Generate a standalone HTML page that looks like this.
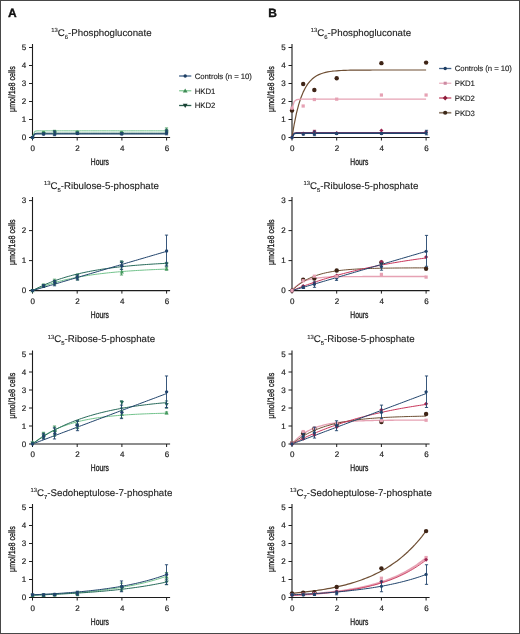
<!DOCTYPE html>
<html><head><meta charset="utf-8"><title>Figure</title><style>
html,body{margin:0;padding:0;background:#fff;}
body{width:520px;height:634px;overflow:hidden;}
svg{display:block;will-change:transform;}
text{font-family:"Liberation Sans",sans-serif;text-rendering:geometricPrecision;fill:#222;stroke:#222;stroke-width:0.12px;}
.pl{font-size:12px;font-weight:bold;fill:#111;stroke:#111;stroke-width:0.35px;}
.ti{font-size:9.7px;}
.sup{font-size:5.9px;}
.tk{font-size:8px;stroke-width:0.2px;}
.lg{font-size:7.8px;letter-spacing:-0.08px;}
.hr{font-size:9.6px;stroke-width:0.35px;}
.yl{font-size:9.2px;stroke-width:0.32px;}
</style></head><body>
<svg width="520" height="634" viewBox="0 0 520 634">
<rect x="0" y="0" width="520" height="634" fill="#fff"/>
<rect x="0.5" y="0.5" width="519" height="633" fill="none" stroke="#474747" stroke-width="1"/>
<text x="7.9" y="16.9" class="pl">A</text>
<text x="268.3" y="16.9" class="pl">B</text>
<text x="101.4" y="35.9" class="ti" text-anchor="middle"><tspan class="sup" dy="-3.6">13</tspan><tspan dy="3.6">C</tspan><tspan class="sup" dy="2.8">6</tspan><tspan dy="-2.8">-Phosphogluconate</tspan></text>
<text x="101.4" y="189" class="ti" text-anchor="middle"><tspan class="sup" dy="-3.6">13</tspan><tspan dy="3.6">C</tspan><tspan class="sup" dy="2.8">5</tspan><tspan dy="-2.8">-Ribulose-5-phosphate</tspan></text>
<text x="101.4" y="342.4" class="ti" text-anchor="middle"><tspan class="sup" dy="-3.6">13</tspan><tspan dy="3.6">C</tspan><tspan class="sup" dy="2.8">5</tspan><tspan dy="-2.8">-Ribose-5-phosphate</tspan></text>
<text x="101.4" y="495.9" class="ti" text-anchor="middle"><tspan class="sup" dy="-3.6">13</tspan><tspan dy="3.6">C</tspan><tspan class="sup" dy="2.8">7</tspan><tspan dy="-2.8">-Sedoheptulose-7-phosphate</tspan></text>
<text x="360.9" y="35.9" class="ti" text-anchor="middle"><tspan class="sup" dy="-3.6">13</tspan><tspan dy="3.6">C</tspan><tspan class="sup" dy="2.8">6</tspan><tspan dy="-2.8">-Phosphogluconate</tspan></text>
<text x="360.9" y="189" class="ti" text-anchor="middle"><tspan class="sup" dy="-3.6">13</tspan><tspan dy="3.6">C</tspan><tspan class="sup" dy="2.8">5</tspan><tspan dy="-2.8">-Ribulose-5-phosphate</tspan></text>
<text x="360.9" y="342.4" class="ti" text-anchor="middle"><tspan class="sup" dy="-3.6">13</tspan><tspan dy="3.6">C</tspan><tspan class="sup" dy="2.8">5</tspan><tspan dy="-2.8">-Ribose-5-phosphate</tspan></text>
<text x="360.9" y="495.9" class="ti" text-anchor="middle"><tspan class="sup" dy="-3.6">13</tspan><tspan dy="3.6">C</tspan><tspan class="sup" dy="2.8">7</tspan><tspan dy="-2.8">-Sedoheptulose-7-phosphate</tspan></text>
<path d="M32.5 44V137.5H170.1" stroke="#1c1c1c" stroke-width="1.1" fill="none"/>
<path d="M29 137.5H32.5" stroke="#1c1c1c" stroke-width="1" fill="none"/>
<text x="26.2" y="140" class="tk" text-anchor="end">0</text>
<path d="M29 119.5H32.5" stroke="#1c1c1c" stroke-width="1" fill="none"/>
<text x="26.2" y="122" class="tk" text-anchor="end">1</text>
<path d="M29 101.5H32.5" stroke="#1c1c1c" stroke-width="1" fill="none"/>
<text x="26.2" y="104" class="tk" text-anchor="end">2</text>
<path d="M29 83.5H32.5" stroke="#1c1c1c" stroke-width="1" fill="none"/>
<text x="26.2" y="86" class="tk" text-anchor="end">3</text>
<path d="M29 65.5H32.5" stroke="#1c1c1c" stroke-width="1" fill="none"/>
<text x="26.2" y="68" class="tk" text-anchor="end">4</text>
<path d="M29 47.5H32.5" stroke="#1c1c1c" stroke-width="1" fill="none"/>
<text x="26.2" y="50" class="tk" text-anchor="end">5</text>
<path d="M32.5 137.5V140.5" stroke="#1c1c1c" stroke-width="1" fill="none"/>
<text x="32.8" y="150.7" class="tk" text-anchor="middle">0</text>
<path d="M77.2 137.5V140.5" stroke="#1c1c1c" stroke-width="1" fill="none"/>
<text x="77.5" y="150.7" class="tk" text-anchor="middle">2</text>
<path d="M121.9 137.5V140.5" stroke="#1c1c1c" stroke-width="1" fill="none"/>
<text x="122.2" y="150.7" class="tk" text-anchor="middle">4</text>
<path d="M166.6 137.5V140.5" stroke="#1c1c1c" stroke-width="1" fill="none"/>
<text x="166.9" y="150.7" class="tk" text-anchor="middle">6</text>
<text class="hr" text-anchor="middle" transform="translate(99.8 164.6) scale(0.7 1)">Hours</text>
<text class="yl" text-anchor="middle" transform="translate(14.9 89.1) rotate(-90) scale(0.775 1)">&#956;mol/1e8 cells</text>
<path d="M32.5 197.1V290.6H170.1" stroke="#1c1c1c" stroke-width="1.1" fill="none"/>
<path d="M29 290.6H32.5" stroke="#1c1c1c" stroke-width="1" fill="none"/>
<text x="26.2" y="293.1" class="tk" text-anchor="end">0</text>
<path d="M29 260.6H32.5" stroke="#1c1c1c" stroke-width="1" fill="none"/>
<text x="26.2" y="263.1" class="tk" text-anchor="end">1</text>
<path d="M29 230.6H32.5" stroke="#1c1c1c" stroke-width="1" fill="none"/>
<text x="26.2" y="233.1" class="tk" text-anchor="end">2</text>
<path d="M29 200.6H32.5" stroke="#1c1c1c" stroke-width="1" fill="none"/>
<text x="26.2" y="203.1" class="tk" text-anchor="end">3</text>
<path d="M32.5 290.6V293.6" stroke="#1c1c1c" stroke-width="1" fill="none"/>
<text x="32.8" y="303.8" class="tk" text-anchor="middle">0</text>
<path d="M77.2 290.6V293.6" stroke="#1c1c1c" stroke-width="1" fill="none"/>
<text x="77.5" y="303.8" class="tk" text-anchor="middle">2</text>
<path d="M121.9 290.6V293.6" stroke="#1c1c1c" stroke-width="1" fill="none"/>
<text x="122.2" y="303.8" class="tk" text-anchor="middle">4</text>
<path d="M166.6 290.6V293.6" stroke="#1c1c1c" stroke-width="1" fill="none"/>
<text x="166.9" y="303.8" class="tk" text-anchor="middle">6</text>
<text class="hr" text-anchor="middle" transform="translate(99.8 317.7) scale(0.7 1)">Hours</text>
<text class="yl" text-anchor="middle" transform="translate(14.9 242.2) rotate(-90) scale(0.775 1)">&#956;mol/1e8 cells</text>
<path d="M32.5 350.5V444H170.1" stroke="#1c1c1c" stroke-width="1.1" fill="none"/>
<path d="M29 444H32.5" stroke="#1c1c1c" stroke-width="1" fill="none"/>
<text x="26.2" y="446.5" class="tk" text-anchor="end">0</text>
<path d="M29 426H32.5" stroke="#1c1c1c" stroke-width="1" fill="none"/>
<text x="26.2" y="428.5" class="tk" text-anchor="end">1</text>
<path d="M29 408H32.5" stroke="#1c1c1c" stroke-width="1" fill="none"/>
<text x="26.2" y="410.5" class="tk" text-anchor="end">2</text>
<path d="M29 390H32.5" stroke="#1c1c1c" stroke-width="1" fill="none"/>
<text x="26.2" y="392.5" class="tk" text-anchor="end">3</text>
<path d="M29 372H32.5" stroke="#1c1c1c" stroke-width="1" fill="none"/>
<text x="26.2" y="374.5" class="tk" text-anchor="end">4</text>
<path d="M29 354H32.5" stroke="#1c1c1c" stroke-width="1" fill="none"/>
<text x="26.2" y="356.5" class="tk" text-anchor="end">5</text>
<path d="M32.5 444V447" stroke="#1c1c1c" stroke-width="1" fill="none"/>
<text x="32.8" y="457.2" class="tk" text-anchor="middle">0</text>
<path d="M77.2 444V447" stroke="#1c1c1c" stroke-width="1" fill="none"/>
<text x="77.5" y="457.2" class="tk" text-anchor="middle">2</text>
<path d="M121.9 444V447" stroke="#1c1c1c" stroke-width="1" fill="none"/>
<text x="122.2" y="457.2" class="tk" text-anchor="middle">4</text>
<path d="M166.6 444V447" stroke="#1c1c1c" stroke-width="1" fill="none"/>
<text x="166.9" y="457.2" class="tk" text-anchor="middle">6</text>
<text class="hr" text-anchor="middle" transform="translate(99.8 471.1) scale(0.7 1)">Hours</text>
<text class="yl" text-anchor="middle" transform="translate(14.9 395.6) rotate(-90) scale(0.775 1)">&#956;mol/1e8 cells</text>
<path d="M32.5 504V597.5H170.1" stroke="#1c1c1c" stroke-width="1.1" fill="none"/>
<path d="M29 597.5H32.5" stroke="#1c1c1c" stroke-width="1" fill="none"/>
<text x="26.2" y="600" class="tk" text-anchor="end">0</text>
<path d="M29 579.5H32.5" stroke="#1c1c1c" stroke-width="1" fill="none"/>
<text x="26.2" y="582" class="tk" text-anchor="end">1</text>
<path d="M29 561.5H32.5" stroke="#1c1c1c" stroke-width="1" fill="none"/>
<text x="26.2" y="564" class="tk" text-anchor="end">2</text>
<path d="M29 543.5H32.5" stroke="#1c1c1c" stroke-width="1" fill="none"/>
<text x="26.2" y="546" class="tk" text-anchor="end">3</text>
<path d="M29 525.5H32.5" stroke="#1c1c1c" stroke-width="1" fill="none"/>
<text x="26.2" y="528" class="tk" text-anchor="end">4</text>
<path d="M29 507.5H32.5" stroke="#1c1c1c" stroke-width="1" fill="none"/>
<text x="26.2" y="510" class="tk" text-anchor="end">5</text>
<path d="M32.5 597.5V600.5" stroke="#1c1c1c" stroke-width="1" fill="none"/>
<text x="32.8" y="610.7" class="tk" text-anchor="middle">0</text>
<path d="M77.2 597.5V600.5" stroke="#1c1c1c" stroke-width="1" fill="none"/>
<text x="77.5" y="610.7" class="tk" text-anchor="middle">2</text>
<path d="M121.9 597.5V600.5" stroke="#1c1c1c" stroke-width="1" fill="none"/>
<text x="122.2" y="610.7" class="tk" text-anchor="middle">4</text>
<path d="M166.6 597.5V600.5" stroke="#1c1c1c" stroke-width="1" fill="none"/>
<text x="166.9" y="610.7" class="tk" text-anchor="middle">6</text>
<text class="hr" text-anchor="middle" transform="translate(99.8 624.6) scale(0.7 1)">Hours</text>
<text class="yl" text-anchor="middle" transform="translate(14.9 549.1) rotate(-90) scale(0.775 1)">&#956;mol/1e8 cells</text>
<path d="M292 44V137.5H429.6" stroke="#1c1c1c" stroke-width="1.1" fill="none"/>
<path d="M288.5 137.5H292" stroke="#1c1c1c" stroke-width="1" fill="none"/>
<text x="285.7" y="140" class="tk" text-anchor="end">0</text>
<path d="M288.5 119.5H292" stroke="#1c1c1c" stroke-width="1" fill="none"/>
<text x="285.7" y="122" class="tk" text-anchor="end">1</text>
<path d="M288.5 101.5H292" stroke="#1c1c1c" stroke-width="1" fill="none"/>
<text x="285.7" y="104" class="tk" text-anchor="end">2</text>
<path d="M288.5 83.5H292" stroke="#1c1c1c" stroke-width="1" fill="none"/>
<text x="285.7" y="86" class="tk" text-anchor="end">3</text>
<path d="M288.5 65.5H292" stroke="#1c1c1c" stroke-width="1" fill="none"/>
<text x="285.7" y="68" class="tk" text-anchor="end">4</text>
<path d="M288.5 47.5H292" stroke="#1c1c1c" stroke-width="1" fill="none"/>
<text x="285.7" y="50" class="tk" text-anchor="end">5</text>
<path d="M292 137.5V140.5" stroke="#1c1c1c" stroke-width="1" fill="none"/>
<text x="292.3" y="150.7" class="tk" text-anchor="middle">0</text>
<path d="M336.7 137.5V140.5" stroke="#1c1c1c" stroke-width="1" fill="none"/>
<text x="337" y="150.7" class="tk" text-anchor="middle">2</text>
<path d="M381.4 137.5V140.5" stroke="#1c1c1c" stroke-width="1" fill="none"/>
<text x="381.7" y="150.7" class="tk" text-anchor="middle">4</text>
<path d="M426.1 137.5V140.5" stroke="#1c1c1c" stroke-width="1" fill="none"/>
<text x="426.4" y="150.7" class="tk" text-anchor="middle">6</text>
<text class="hr" text-anchor="middle" transform="translate(359.3 164.6) scale(0.7 1)">Hours</text>
<text class="yl" text-anchor="middle" transform="translate(274.4 89.1) rotate(-90) scale(0.775 1)">&#956;mol/1e8 cells</text>
<path d="M292 197.1V290.6H429.6" stroke="#1c1c1c" stroke-width="1.1" fill="none"/>
<path d="M288.5 290.6H292" stroke="#1c1c1c" stroke-width="1" fill="none"/>
<text x="285.7" y="293.1" class="tk" text-anchor="end">0</text>
<path d="M288.5 260.6H292" stroke="#1c1c1c" stroke-width="1" fill="none"/>
<text x="285.7" y="263.1" class="tk" text-anchor="end">1</text>
<path d="M288.5 230.6H292" stroke="#1c1c1c" stroke-width="1" fill="none"/>
<text x="285.7" y="233.1" class="tk" text-anchor="end">2</text>
<path d="M288.5 200.6H292" stroke="#1c1c1c" stroke-width="1" fill="none"/>
<text x="285.7" y="203.1" class="tk" text-anchor="end">3</text>
<path d="M292 290.6V293.6" stroke="#1c1c1c" stroke-width="1" fill="none"/>
<text x="292.3" y="303.8" class="tk" text-anchor="middle">0</text>
<path d="M336.7 290.6V293.6" stroke="#1c1c1c" stroke-width="1" fill="none"/>
<text x="337" y="303.8" class="tk" text-anchor="middle">2</text>
<path d="M381.4 290.6V293.6" stroke="#1c1c1c" stroke-width="1" fill="none"/>
<text x="381.7" y="303.8" class="tk" text-anchor="middle">4</text>
<path d="M426.1 290.6V293.6" stroke="#1c1c1c" stroke-width="1" fill="none"/>
<text x="426.4" y="303.8" class="tk" text-anchor="middle">6</text>
<text class="hr" text-anchor="middle" transform="translate(359.3 317.7) scale(0.7 1)">Hours</text>
<text class="yl" text-anchor="middle" transform="translate(274.4 242.2) rotate(-90) scale(0.775 1)">&#956;mol/1e8 cells</text>
<path d="M292 350.5V444H429.6" stroke="#1c1c1c" stroke-width="1.1" fill="none"/>
<path d="M288.5 444H292" stroke="#1c1c1c" stroke-width="1" fill="none"/>
<text x="285.7" y="446.5" class="tk" text-anchor="end">0</text>
<path d="M288.5 426H292" stroke="#1c1c1c" stroke-width="1" fill="none"/>
<text x="285.7" y="428.5" class="tk" text-anchor="end">1</text>
<path d="M288.5 408H292" stroke="#1c1c1c" stroke-width="1" fill="none"/>
<text x="285.7" y="410.5" class="tk" text-anchor="end">2</text>
<path d="M288.5 390H292" stroke="#1c1c1c" stroke-width="1" fill="none"/>
<text x="285.7" y="392.5" class="tk" text-anchor="end">3</text>
<path d="M288.5 372H292" stroke="#1c1c1c" stroke-width="1" fill="none"/>
<text x="285.7" y="374.5" class="tk" text-anchor="end">4</text>
<path d="M288.5 354H292" stroke="#1c1c1c" stroke-width="1" fill="none"/>
<text x="285.7" y="356.5" class="tk" text-anchor="end">5</text>
<path d="M292 444V447" stroke="#1c1c1c" stroke-width="1" fill="none"/>
<text x="292.3" y="457.2" class="tk" text-anchor="middle">0</text>
<path d="M336.7 444V447" stroke="#1c1c1c" stroke-width="1" fill="none"/>
<text x="337" y="457.2" class="tk" text-anchor="middle">2</text>
<path d="M381.4 444V447" stroke="#1c1c1c" stroke-width="1" fill="none"/>
<text x="381.7" y="457.2" class="tk" text-anchor="middle">4</text>
<path d="M426.1 444V447" stroke="#1c1c1c" stroke-width="1" fill="none"/>
<text x="426.4" y="457.2" class="tk" text-anchor="middle">6</text>
<text class="hr" text-anchor="middle" transform="translate(359.3 471.1) scale(0.7 1)">Hours</text>
<text class="yl" text-anchor="middle" transform="translate(274.4 395.6) rotate(-90) scale(0.775 1)">&#956;mol/1e8 cells</text>
<path d="M292 504V597.5H429.6" stroke="#1c1c1c" stroke-width="1.1" fill="none"/>
<path d="M288.5 597.5H292" stroke="#1c1c1c" stroke-width="1" fill="none"/>
<text x="285.7" y="600" class="tk" text-anchor="end">0</text>
<path d="M288.5 579.5H292" stroke="#1c1c1c" stroke-width="1" fill="none"/>
<text x="285.7" y="582" class="tk" text-anchor="end">1</text>
<path d="M288.5 561.5H292" stroke="#1c1c1c" stroke-width="1" fill="none"/>
<text x="285.7" y="564" class="tk" text-anchor="end">2</text>
<path d="M288.5 543.5H292" stroke="#1c1c1c" stroke-width="1" fill="none"/>
<text x="285.7" y="546" class="tk" text-anchor="end">3</text>
<path d="M288.5 525.5H292" stroke="#1c1c1c" stroke-width="1" fill="none"/>
<text x="285.7" y="528" class="tk" text-anchor="end">4</text>
<path d="M288.5 507.5H292" stroke="#1c1c1c" stroke-width="1" fill="none"/>
<text x="285.7" y="510" class="tk" text-anchor="end">5</text>
<path d="M292 597.5V600.5" stroke="#1c1c1c" stroke-width="1" fill="none"/>
<text x="292.3" y="610.7" class="tk" text-anchor="middle">0</text>
<path d="M336.7 597.5V600.5" stroke="#1c1c1c" stroke-width="1" fill="none"/>
<text x="337" y="610.7" class="tk" text-anchor="middle">2</text>
<path d="M381.4 597.5V600.5" stroke="#1c1c1c" stroke-width="1" fill="none"/>
<text x="381.7" y="610.7" class="tk" text-anchor="middle">4</text>
<path d="M426.1 597.5V600.5" stroke="#1c1c1c" stroke-width="1" fill="none"/>
<text x="426.4" y="610.7" class="tk" text-anchor="middle">6</text>
<text class="hr" text-anchor="middle" transform="translate(359.3 624.6) scale(0.7 1)">Hours</text>
<text class="yl" text-anchor="middle" transform="translate(274.4 549.1) rotate(-90) scale(0.775 1)">&#956;mol/1e8 cells</text>
<polyline points="32.5,136.6 34.73,131.31 36.97,130.88 39.2,130.84 41.44,130.84 43.67,130.84 45.91,130.84 48.14,130.84 50.38,130.84 52.62,130.84 54.85,130.84 57.09,130.84 59.32,130.84 61.56,130.84 63.79,130.84 66.03,130.84 68.26,130.84 70.5,130.84 72.73,130.84 74.97,130.84 77.2,130.84 79.44,130.84 81.67,130.84 83.91,130.84 86.14,130.84 88.38,130.84 90.61,130.84 92.84,130.84 95.08,130.84 97.31,130.84 99.55,130.84 101.79,130.84 104.02,130.84 106.25,130.84 108.49,130.84 110.73,130.84 112.96,130.84 115.2,130.84 117.43,130.84 119.67,130.84 121.9,130.84 124.13,130.84 126.37,130.84 128.61,130.84 130.84,130.84 133.07,130.84 135.31,130.84 137.55,130.84 139.78,130.84 142.02,130.84 144.25,130.84 146.49,130.84 148.72,130.84 150.95,130.84 153.19,130.84 155.43,130.84 157.66,130.84 159.9,130.84 162.13,130.84 164.37,130.84 166.6,130.84" fill="none" stroke="#72c38c" stroke-width="1.0" stroke-linejoin="round"/>
<polyline points="32.5,137.14 34.73,133.51 36.97,133.21 39.2,133.18 41.44,133.18 43.67,133.18 45.91,133.18 48.14,133.18 50.38,133.18 52.62,133.18 54.85,133.18 57.09,133.18 59.32,133.18 61.56,133.18 63.79,133.18 66.03,133.18 68.26,133.18 70.5,133.18 72.73,133.18 74.97,133.18 77.2,133.18 79.44,133.18 81.67,133.18 83.91,133.18 86.14,133.18 88.38,133.18 90.61,133.18 92.84,133.18 95.08,133.18 97.31,133.18 99.55,133.18 101.79,133.18 104.02,133.18 106.25,133.18 108.49,133.18 110.73,133.18 112.96,133.18 115.2,133.18 117.43,133.18 119.67,133.18 121.9,133.18 124.13,133.18 126.37,133.18 128.61,133.18 130.84,133.18 133.07,133.18 135.31,133.18 137.55,133.18 139.78,133.18 142.02,133.18 144.25,133.18 146.49,133.18 148.72,133.18 150.95,133.18 153.19,133.18 155.43,133.18 157.66,133.18 159.9,133.18 162.13,133.18 164.37,133.18 166.6,133.18" fill="none" stroke="#276a5a" stroke-width="1.0" stroke-linejoin="round"/>
<polyline points="32.5,137.5 34.73,134.2 36.97,133.92 39.2,133.9 41.44,133.9 43.67,133.9 45.91,133.9 48.14,133.9 50.38,133.9 52.62,133.9 54.85,133.9 57.09,133.9 59.32,133.9 61.56,133.9 63.79,133.9 66.03,133.9 68.26,133.9 70.5,133.9 72.73,133.9 74.97,133.9 77.2,133.9 79.44,133.9 81.67,133.9 83.91,133.9 86.14,133.9 88.38,133.9 90.61,133.9 92.84,133.9 95.08,133.9 97.31,133.9 99.55,133.9 101.79,133.9 104.02,133.9 106.25,133.9 108.49,133.9 110.73,133.9 112.96,133.9 115.2,133.9 117.43,133.9 119.67,133.9 121.9,133.9 124.13,133.9 126.37,133.9 128.61,133.9 130.84,133.9 133.07,133.9 135.31,133.9 137.55,133.9 139.78,133.9 142.02,133.9 144.25,133.9 146.49,133.9 148.72,133.9 150.95,133.9 153.19,133.9 155.43,133.9 157.66,133.9 159.9,133.9 162.13,133.9 164.37,133.9 166.6,133.9" fill="none" stroke="#21446c" stroke-width="1.3" stroke-linejoin="round"/>
<path d="M32.5 135.08L34.56 138.69L30.44 138.69Z" fill="#46995f"/>
<path d="M43.5 131.56V133.36M41.9 131.56H45.1M41.9 133.36H45.1" stroke="#46995f" stroke-width="0.9" fill="none"/>
<path d="M43.67 130.4L45.74 134.01L41.61 134.01Z" fill="#46995f"/>
<path d="M54.5 130.3V133.9M52.9 130.3H56.1M52.9 133.9H56.1" stroke="#46995f" stroke-width="0.9" fill="none"/>
<path d="M54.85 130.04L56.91 133.65L52.79 133.65Z" fill="#46995f"/>
<path d="M77.5 131.2V133M75.9 131.2H79.1M75.9 133H79.1" stroke="#46995f" stroke-width="0.9" fill="none"/>
<path d="M77.2 130.04L79.26 133.65L75.14 133.65Z" fill="#46995f"/>
<path d="M121.5 131.56V133.36M119.9 131.56H123.1M119.9 133.36H123.1" stroke="#46995f" stroke-width="0.9" fill="none"/>
<path d="M121.9 130.4L123.96 134.01L119.84 134.01Z" fill="#46995f"/>
<path d="M166.5 127.96V132.46M164.9 127.96H168.1M164.9 132.46H168.1" stroke="#46995f" stroke-width="0.9" fill="none"/>
<path d="M166.6 128.6L168.66 132.21L164.54 132.21Z" fill="#46995f"/>
<path d="M32.5 139.56L34.56 135.95L30.44 135.95Z" fill="#276a5a"/>
<path d="M43.5 132.64V134.44M41.9 132.64H45.1M41.9 134.44H45.1" stroke="#276a5a" stroke-width="0.9" fill="none"/>
<path d="M43.67 135.6L45.74 131.99L41.61 131.99Z" fill="#276a5a"/>
<path d="M54.5 130.84V134.8M52.9 130.84H56.1M52.9 134.8H56.1" stroke="#276a5a" stroke-width="0.9" fill="none"/>
<path d="M54.85 135.06L56.91 131.45L52.79 131.45Z" fill="#276a5a"/>
<path d="M77.5 132.1V133.9M75.9 132.1H79.1M75.9 133.9H79.1" stroke="#276a5a" stroke-width="0.9" fill="none"/>
<path d="M77.2 135.06L79.26 131.45L75.14 131.45Z" fill="#276a5a"/>
<path d="M121.5 132.64V134.44M119.9 132.64H123.1M119.9 134.44H123.1" stroke="#276a5a" stroke-width="0.9" fill="none"/>
<path d="M121.9 135.6L123.96 131.99L119.84 131.99Z" fill="#276a5a"/>
<path d="M166.5 129.4V133.9M164.9 129.4H168.1M164.9 133.9H168.1" stroke="#276a5a" stroke-width="0.9" fill="none"/>
<path d="M166.6 134.16L168.66 130.55L164.54 130.55Z" fill="#276a5a"/>
<circle cx="32.5" cy="137.5" r="1.65" fill="#21446c"/>
<path d="M43.5 133.18V134.98M41.9 133.18H45.1M41.9 134.98H45.1" stroke="#21446c" stroke-width="0.9" fill="none"/>
<circle cx="43.67" cy="134.08" r="1.65" fill="#21446c"/>
<path d="M54.5 131.2V135.7M52.9 131.2H56.1M52.9 135.7H56.1" stroke="#21446c" stroke-width="0.9" fill="none"/>
<circle cx="54.85" cy="133.9" r="1.65" fill="#21446c"/>
<path d="M77.5 132.64V134.44M75.9 132.64H79.1M75.9 134.44H79.1" stroke="#21446c" stroke-width="0.9" fill="none"/>
<circle cx="77.2" cy="133.54" r="1.65" fill="#21446c"/>
<path d="M121.5 133V134.8M119.9 133H123.1M119.9 134.8H123.1" stroke="#21446c" stroke-width="0.9" fill="none"/>
<circle cx="121.9" cy="133.9" r="1.65" fill="#21446c"/>
<path d="M166.5 130.3V134.8M164.9 130.3H168.1M164.9 134.8H168.1" stroke="#21446c" stroke-width="0.9" fill="none"/>
<circle cx="166.6" cy="133" r="1.65" fill="#21446c"/>
<polyline points="32.5,290.6 34.73,289.64 36.97,288.71 39.2,287.83 41.44,286.98 43.67,286.17 45.91,285.39 48.14,284.64 50.38,283.92 52.62,283.23 54.85,282.57 57.09,281.94 59.32,281.34 61.56,280.75 63.79,280.2 66.03,279.66 68.26,279.15 70.5,278.66 72.73,278.19 74.97,277.74 77.2,277.3 79.44,276.89 81.67,276.49 83.91,276.11 86.14,275.74 88.38,275.39 90.61,275.05 92.84,274.73 95.08,274.42 97.31,274.12 99.55,273.84 101.79,273.56 104.02,273.3 106.25,273.05 108.49,272.81 110.73,272.58 112.96,272.36 115.2,272.15 117.43,271.94 119.67,271.75 121.9,271.56 124.13,271.38 126.37,271.21 128.61,271.04 130.84,270.89 133.07,270.74 135.31,270.59 137.55,270.45 139.78,270.32 142.02,270.19 144.25,270.07 146.49,269.95 148.72,269.83 150.95,269.73 153.19,269.62 155.43,269.52 157.66,269.43 159.9,269.34 162.13,269.25 164.37,269.16 166.6,269.08" fill="none" stroke="#72c38c" stroke-width="1.0" stroke-linejoin="round"/>
<polyline points="32.5,290.6 34.73,289.42 36.97,288.29 39.2,287.21 41.44,286.16 43.67,285.16 45.91,284.2 48.14,283.27 50.38,282.38 52.62,281.53 54.85,280.71 57.09,279.92 59.32,279.16 61.56,278.44 63.79,277.74 66.03,277.06 68.26,276.42 70.5,275.8 72.73,275.2 74.97,274.63 77.2,274.08 79.44,273.55 81.67,273.04 83.91,272.56 86.14,272.09 88.38,271.64 90.61,271.2 92.84,270.79 95.08,270.39 97.31,270 99.55,269.64 101.79,269.28 104.02,268.94 106.25,268.61 108.49,268.3 110.73,268 112.96,267.71 115.2,267.43 117.43,267.16 119.67,266.9 121.9,266.66 124.13,266.42 126.37,266.19 128.61,265.97 130.84,265.76 133.07,265.56 135.31,265.36 137.55,265.18 139.78,265 142.02,264.83 144.25,264.66 146.49,264.5 148.72,264.35 150.95,264.2 153.19,264.06 155.43,263.92 157.66,263.79 159.9,263.67 162.13,263.55 164.37,263.43 166.6,263.32" fill="none" stroke="#276a5a" stroke-width="1.0" stroke-linejoin="round"/>
<polyline points="32.5,290.6 34.73,289.95 36.97,289.29 39.2,288.64 41.44,287.98 43.67,287.33 45.91,286.68 48.14,286.02 50.38,285.37 52.62,284.71 54.85,284.06 57.09,283.41 59.32,282.75 61.56,282.1 63.79,281.44 66.03,280.79 68.26,280.14 70.5,279.48 72.73,278.83 74.97,278.17 77.2,277.52 79.44,276.87 81.67,276.21 83.91,275.56 86.14,274.9 88.38,274.25 90.61,273.6 92.84,272.94 95.08,272.29 97.31,271.63 99.55,270.98 101.79,270.33 104.02,269.67 106.25,269.02 108.49,268.36 110.73,267.71 112.96,267.06 115.2,266.4 117.43,265.75 119.67,265.09 121.9,264.44 124.13,263.79 126.37,263.13 128.61,262.48 130.84,261.82 133.07,261.17 135.31,260.52 137.55,259.86 139.78,259.21 142.02,258.55 144.25,257.9 146.49,257.25 148.72,256.59 150.95,255.94 153.19,255.28 155.43,254.63 157.66,253.98 159.9,253.32 162.13,252.67 164.37,252.01 166.6,251.36" fill="none" stroke="#21446c" stroke-width="1.0" stroke-linejoin="round"/>
<path d="M32.5 288.54L34.56 292.15L30.44 292.15Z" fill="#46995f"/>
<path d="M43.5 284V287M41.9 284H45.1M41.9 287H45.1" stroke="#46995f" stroke-width="0.9" fill="none"/>
<path d="M43.67 283.44L45.74 287.05L41.61 287.05Z" fill="#46995f"/>
<path d="M54.5 279.2V284M52.9 279.2H56.1M52.9 284H56.1" stroke="#46995f" stroke-width="0.9" fill="none"/>
<path d="M54.85 279.54L56.91 283.15L52.79 283.15Z" fill="#46995f"/>
<path d="M77.5 274.1V278.9M75.9 274.1H79.1M75.9 278.9H79.1" stroke="#46995f" stroke-width="0.9" fill="none"/>
<path d="M77.2 274.44L79.26 278.05L75.14 278.05Z" fill="#46995f"/>
<path d="M121.5 269V275M119.9 269H123.1M119.9 275H123.1" stroke="#46995f" stroke-width="0.9" fill="none"/>
<path d="M121.9 269.94L123.96 273.55L119.84 273.55Z" fill="#46995f"/>
<path d="M166.5 267.2V270.2M164.9 267.2H168.1M164.9 270.2H168.1" stroke="#46995f" stroke-width="0.9" fill="none"/>
<path d="M166.6 266.64L168.66 270.25L164.54 270.25Z" fill="#46995f"/>
<path d="M32.5 292.66L34.56 289.05L30.44 289.05Z" fill="#276a5a"/>
<path d="M43.5 284.6V287M41.9 284.6H45.1M41.9 287H45.1" stroke="#276a5a" stroke-width="0.9" fill="none"/>
<path d="M43.67 287.86L45.74 284.25L41.61 284.25Z" fill="#276a5a"/>
<path d="M54.5 280.7V284.9M52.9 280.7H56.1M52.9 284.9H56.1" stroke="#276a5a" stroke-width="0.9" fill="none"/>
<path d="M54.85 284.86L56.91 281.25L52.79 281.25Z" fill="#276a5a"/>
<path d="M77.5 274.7V280.1M75.9 274.7H79.1M75.9 280.1H79.1" stroke="#276a5a" stroke-width="0.9" fill="none"/>
<path d="M77.2 279.16L79.26 275.55L75.14 275.55Z" fill="#276a5a"/>
<path d="M121.5 260.9V265.7M119.9 260.9H123.1M119.9 265.7H123.1" stroke="#276a5a" stroke-width="0.9" fill="none"/>
<path d="M121.9 264.76L123.96 261.15L119.84 261.15Z" fill="#276a5a"/>
<path d="M166.5 262.4V266M164.9 262.4H168.1M164.9 266H168.1" stroke="#276a5a" stroke-width="0.9" fill="none"/>
<path d="M166.6 266.26L168.66 262.65L164.54 262.65Z" fill="#276a5a"/>
<circle cx="32.5" cy="290.6" r="1.65" fill="#21446c"/>
<path d="M43.5 284.9V287.3M41.9 284.9H45.1M41.9 287.3H45.1" stroke="#21446c" stroke-width="0.9" fill="none"/>
<circle cx="43.67" cy="286.1" r="1.65" fill="#21446c"/>
<path d="M54.5 280.4V285.8M52.9 280.4H56.1M52.9 285.8H56.1" stroke="#21446c" stroke-width="0.9" fill="none"/>
<circle cx="54.85" cy="282.8" r="1.65" fill="#21446c"/>
<path d="M77.5 275V279.8M75.9 275H79.1M75.9 279.8H79.1" stroke="#21446c" stroke-width="0.9" fill="none"/>
<circle cx="77.2" cy="277.4" r="1.65" fill="#21446c"/>
<path d="M121.5 262.4V269.6M119.9 262.4H123.1M119.9 269.6H123.1" stroke="#21446c" stroke-width="0.9" fill="none"/>
<circle cx="121.9" cy="266" r="1.65" fill="#21446c"/>
<path d="M166.5 235.1V266M164.9 235.1H168.1M164.9 266H168.1" stroke="#21446c" stroke-width="0.9" fill="none"/>
<circle cx="166.6" cy="251" r="1.65" fill="#21446c"/>
<polyline points="32.5,444 34.73,442.16 36.97,440.42 39.2,438.78 41.44,437.24 43.67,435.79 45.91,434.42 48.14,433.14 50.38,431.92 52.62,430.78 54.85,429.71 57.09,428.69 59.32,427.74 61.56,426.84 63.79,426 66.03,425.2 68.26,424.45 70.5,423.74 72.73,423.08 74.97,422.45 77.2,421.86 79.44,421.31 81.67,420.78 83.91,420.29 86.14,419.83 88.38,419.39 90.61,418.98 92.84,418.59 95.08,418.22 97.31,417.88 99.55,417.56 101.79,417.25 104.02,416.96 106.25,416.69 108.49,416.44 110.73,416.2 112.96,415.97 115.2,415.76 117.43,415.56 119.67,415.37 121.9,415.19 124.13,415.03 126.37,414.87 128.61,414.72 130.84,414.58 133.07,414.45 135.31,414.33 137.55,414.21 139.78,414.1 142.02,413.99 144.25,413.9 146.49,413.81 148.72,413.72 150.95,413.64 153.19,413.56 155.43,413.49 157.66,413.42 159.9,413.36 162.13,413.3 164.37,413.24 166.6,413.19" fill="none" stroke="#72c38c" stroke-width="1.0" stroke-linejoin="round"/>
<polyline points="32.5,444 34.73,442.35 36.97,440.75 39.2,439.21 41.44,437.72 43.67,436.29 45.91,434.91 48.14,433.58 50.38,432.29 52.62,431.05 54.85,429.85 57.09,428.7 59.32,427.58 61.56,426.51 63.79,425.47 66.03,424.47 68.26,423.51 70.5,422.58 72.73,421.68 74.97,420.82 77.2,419.98 79.44,419.17 81.67,418.4 83.91,417.65 86.14,416.92 88.38,416.23 90.61,415.55 92.84,414.91 95.08,414.28 97.31,413.68 99.55,413.09 101.79,412.53 104.02,411.99 106.25,411.47 108.49,410.96 110.73,410.48 112.96,410.01 115.2,409.55 117.43,409.12 119.67,408.69 121.9,408.29 124.13,407.9 126.37,407.52 128.61,407.15 130.84,406.8 133.07,406.46 135.31,406.13 137.55,405.82 139.78,405.51 142.02,405.22 144.25,404.94 146.49,404.66 148.72,404.4 150.95,404.14 153.19,403.9 155.43,403.66 157.66,403.43 159.9,403.21 162.13,403 164.37,402.8 166.6,402.6" fill="none" stroke="#276a5a" stroke-width="1.0" stroke-linejoin="round"/>
<polyline points="32.5,444 34.73,443.16 36.97,442.32 39.2,441.48 41.44,440.64 43.67,439.8 45.91,438.96 48.14,438.12 50.38,437.28 52.62,436.43 54.85,435.59 57.09,434.75 59.32,433.91 61.56,433.07 63.79,432.23 66.03,431.39 68.26,430.55 70.5,429.71 72.73,428.87 74.97,428.03 77.2,427.19 79.44,426.35 81.67,425.51 83.91,424.67 86.14,423.83 88.38,422.99 90.61,422.14 92.84,421.3 95.08,420.46 97.31,419.62 99.55,418.78 101.79,417.94 104.02,417.1 106.25,416.26 108.49,415.42 110.73,414.58 112.96,413.74 115.2,412.9 117.43,412.06 119.67,411.22 121.9,410.38 124.13,409.54 126.37,408.69 128.61,407.85 130.84,407.01 133.07,406.17 135.31,405.33 137.55,404.49 139.78,403.65 142.02,402.81 144.25,401.97 146.49,401.13 148.72,400.29 150.95,399.45 153.19,398.61 155.43,397.77 157.66,396.93 159.9,396.09 162.13,395.25 164.37,394.4 166.6,393.56" fill="none" stroke="#21446c" stroke-width="1.0" stroke-linejoin="round"/>
<path d="M32.5 440.14L34.56 443.75L30.44 443.75Z" fill="#46995f"/>
<path d="M43.5 432.3V437.7M41.9 432.3H45.1M41.9 437.7H45.1" stroke="#46995f" stroke-width="0.9" fill="none"/>
<path d="M43.67 432.94L45.74 436.55L41.61 436.55Z" fill="#46995f"/>
<path d="M54.5 426V435M52.9 426H56.1M52.9 435H56.1" stroke="#46995f" stroke-width="0.9" fill="none"/>
<path d="M54.85 428.44L56.91 432.05L52.79 432.05Z" fill="#46995f"/>
<path d="M77.5 420.6V427.8M75.9 420.6H79.1M75.9 427.8H79.1" stroke="#46995f" stroke-width="0.9" fill="none"/>
<path d="M77.2 422.14L79.26 425.75L75.14 425.75Z" fill="#46995f"/>
<path d="M121.5 410.7V417.9M119.9 410.7H123.1M119.9 417.9H123.1" stroke="#46995f" stroke-width="0.9" fill="none"/>
<path d="M121.9 412.24L123.96 415.85L119.84 415.85Z" fill="#46995f"/>
<path d="M166.5 411.96V413.76M164.9 411.96H168.1M164.9 413.76H168.1" stroke="#46995f" stroke-width="0.9" fill="none"/>
<path d="M166.6 410.8L168.66 414.41L164.54 414.41Z" fill="#46995f"/>
<path d="M32.5 445.16L34.56 441.55L30.44 441.55Z" fill="#276a5a"/>
<path d="M43.5 433.2V438.6M41.9 433.2H45.1M41.9 438.6H45.1" stroke="#276a5a" stroke-width="0.9" fill="none"/>
<path d="M43.67 437.96L45.74 434.35L41.61 434.35Z" fill="#276a5a"/>
<path d="M54.5 427.26V436.26M52.9 427.26H56.1M52.9 436.26H56.1" stroke="#276a5a" stroke-width="0.9" fill="none"/>
<path d="M54.85 433.82L56.91 430.21L52.79 430.21Z" fill="#276a5a"/>
<path d="M77.5 421.5V428.7M75.9 421.5H79.1M75.9 428.7H79.1" stroke="#276a5a" stroke-width="0.9" fill="none"/>
<path d="M77.2 427.16L79.26 423.55L75.14 423.55Z" fill="#276a5a"/>
<path d="M121.5 400.8V408M119.9 400.8H123.1M119.9 408H123.1" stroke="#276a5a" stroke-width="0.9" fill="none"/>
<path d="M121.9 404.66L123.96 401.05L119.84 401.05Z" fill="#276a5a"/>
<path d="M166.5 400.98V408.18M164.9 400.98H168.1M164.9 408.18H168.1" stroke="#276a5a" stroke-width="0.9" fill="none"/>
<path d="M166.6 406.64L168.66 403.03L164.54 403.03Z" fill="#276a5a"/>
<circle cx="32.5" cy="444" r="1.65" fill="#21446c"/>
<path d="M43.5 433.74V439.14M41.9 433.74H45.1M41.9 439.14H45.1" stroke="#21446c" stroke-width="0.9" fill="none"/>
<circle cx="43.67" cy="436.44" r="1.65" fill="#21446c"/>
<path d="M54.5 428.16V438.96M52.9 428.16H56.1M52.9 438.96H56.1" stroke="#21446c" stroke-width="0.9" fill="none"/>
<circle cx="54.85" cy="433.56" r="1.65" fill="#21446c"/>
<path d="M77.5 420.78V430.68M75.9 420.78H79.1M75.9 430.68H79.1" stroke="#21446c" stroke-width="0.9" fill="none"/>
<circle cx="77.2" cy="425.28" r="1.65" fill="#21446c"/>
<path d="M121.5 405.12V418.62M119.9 405.12H123.1M119.9 418.62H123.1" stroke="#21446c" stroke-width="0.9" fill="none"/>
<circle cx="121.9" cy="412.32" r="1.65" fill="#21446c"/>
<path d="M166.5 375.96V407.46M164.9 375.96H168.1M164.9 407.46H168.1" stroke="#21446c" stroke-width="0.9" fill="none"/>
<circle cx="166.6" cy="391.8" r="1.65" fill="#21446c"/>
<polyline points="32.5,595.16 34.73,595.07 36.97,594.98 39.2,594.89 41.44,594.79 43.67,594.69 45.91,594.58 48.14,594.47 50.38,594.36 52.62,594.24 54.85,594.12 57.09,593.99 59.32,593.86 61.56,593.72 63.79,593.58 66.03,593.44 68.26,593.28 70.5,593.13 72.73,592.96 74.97,592.79 77.2,592.62 79.44,592.43 81.67,592.24 83.91,592.04 86.14,591.84 88.38,591.63 90.61,591.41 92.84,591.18 95.08,590.94 97.31,590.7 99.55,590.44 101.79,590.18 104.02,589.9 106.25,589.62 108.49,589.32 110.73,589.02 112.96,588.7 115.2,588.37 117.43,588.03 119.67,587.67 121.9,587.3 124.13,586.92 126.37,586.52 128.61,586.11 130.84,585.69 133.07,585.24 135.31,584.78 137.55,584.31 139.78,583.81 142.02,583.3 144.25,582.77 146.49,582.21 148.72,581.64 150.95,581.05 153.19,580.43 155.43,579.79 157.66,579.13 159.9,578.44 162.13,577.72 164.37,576.98 166.6,576.21" fill="none" stroke="#72c38c" stroke-width="1.0" stroke-linejoin="round"/>
<polyline points="32.5,595.16 34.73,595.09 36.97,595.01 39.2,594.93 41.44,594.85 43.67,594.76 45.91,594.67 48.14,594.58 50.38,594.49 52.62,594.39 54.85,594.29 57.09,594.19 59.32,594.09 61.56,593.98 63.79,593.86 66.03,593.75 68.26,593.63 70.5,593.5 72.73,593.37 74.97,593.24 77.2,593.11 79.44,592.97 81.67,592.82 83.91,592.67 86.14,592.52 88.38,592.36 90.61,592.19 92.84,592.02 95.08,591.85 97.31,591.67 99.55,591.48 101.79,591.29 104.02,591.09 106.25,590.88 108.49,590.67 110.73,590.45 112.96,590.23 115.2,589.99 117.43,589.75 119.67,589.51 121.9,589.25 124.13,588.99 126.37,588.71 128.61,588.43 130.84,588.14 133.07,587.84 135.31,587.53 137.55,587.22 139.78,586.89 142.02,586.55 144.25,586.2 146.49,585.83 148.72,585.46 150.95,585.08 153.19,584.68 155.43,584.27 157.66,583.84 159.9,583.41 162.13,582.96 164.37,582.49 166.6,582.01" fill="none" stroke="#276a5a" stroke-width="1.0" stroke-linejoin="round"/>
<polyline points="32.5,594.8 34.73,594.7 36.97,594.6 39.2,594.49 41.44,594.39 43.67,594.27 45.91,594.16 48.14,594.03 50.38,593.91 52.62,593.78 54.85,593.64 57.09,593.5 59.32,593.36 61.56,593.21 63.79,593.05 66.03,592.89 68.26,592.72 70.5,592.55 72.73,592.37 74.97,592.18 77.2,591.99 79.44,591.79 81.67,591.58 83.91,591.36 86.14,591.14 88.38,590.91 90.61,590.67 92.84,590.42 95.08,590.16 97.31,589.9 99.55,589.62 101.79,589.33 104.02,589.04 106.25,588.73 108.49,588.41 110.73,588.08 112.96,587.74 115.2,587.38 117.43,587.02 119.67,586.63 121.9,586.24 124.13,585.83 126.37,585.41 128.61,584.97 130.84,584.51 133.07,584.04 135.31,583.55 137.55,583.04 139.78,582.52 142.02,581.97 144.25,581.41 146.49,580.82 148.72,580.22 150.95,579.59 153.19,578.94 155.43,578.26 157.66,577.57 159.9,576.84 162.13,576.09 164.37,575.31 166.6,574.51" fill="none" stroke="#21446c" stroke-width="1.0" stroke-linejoin="round"/>
<path d="M32.5 593.28L34.56 596.89L30.44 596.89Z" fill="#46995f"/>
<path d="M43.5 594.26V596.06M41.9 594.26H45.1M41.9 596.06H45.1" stroke="#46995f" stroke-width="0.9" fill="none"/>
<path d="M43.67 593.1L45.74 596.71L41.61 596.71Z" fill="#46995f"/>
<path d="M54.5 593.9V595.7M52.9 593.9H56.1M52.9 595.7H56.1" stroke="#46995f" stroke-width="0.9" fill="none"/>
<path d="M54.85 592.74L56.91 596.35L52.79 596.35Z" fill="#46995f"/>
<path d="M77.5 591.74V595.34M75.9 591.74H79.1M75.9 595.34H79.1" stroke="#46995f" stroke-width="0.9" fill="none"/>
<path d="M77.2 591.48L79.26 595.09L75.14 595.09Z" fill="#46995f"/>
<path d="M121.5 583.1V590.3M119.9 583.1H123.1M119.9 590.3H123.1" stroke="#46995f" stroke-width="0.9" fill="none"/>
<path d="M121.9 584.64L123.96 588.25L119.84 588.25Z" fill="#46995f"/>
<path d="M166.5 572.48V581.48M164.9 572.48H168.1M164.9 581.48H168.1" stroke="#46995f" stroke-width="0.9" fill="none"/>
<path d="M166.6 574.92L168.66 578.53L164.54 578.53Z" fill="#46995f"/>
<path d="M32.5 597.4L34.56 593.79L30.44 593.79Z" fill="#276a5a"/>
<path d="M43.5 594.44V596.24M41.9 594.44H45.1M41.9 596.24H45.1" stroke="#276a5a" stroke-width="0.9" fill="none"/>
<path d="M43.67 597.4L45.74 593.79L41.61 593.79Z" fill="#276a5a"/>
<path d="M54.5 594.08V595.88M52.9 594.08H56.1M52.9 595.88H56.1" stroke="#276a5a" stroke-width="0.9" fill="none"/>
<path d="M54.85 597.04L56.91 593.43L52.79 593.43Z" fill="#276a5a"/>
<path d="M77.5 592.1V595.7M75.9 592.1H79.1M75.9 595.7H79.1" stroke="#276a5a" stroke-width="0.9" fill="none"/>
<path d="M77.2 595.96L79.26 592.35L75.14 592.35Z" fill="#276a5a"/>
<path d="M121.5 585.8V591.2M119.9 585.8H123.1M119.9 591.2H123.1" stroke="#276a5a" stroke-width="0.9" fill="none"/>
<path d="M121.9 590.56L123.96 586.95L119.84 586.95Z" fill="#276a5a"/>
<path d="M166.5 579.32V584.72M164.9 579.32H168.1M164.9 584.72H168.1" stroke="#276a5a" stroke-width="0.9" fill="none"/>
<path d="M166.6 584.08L168.66 580.47L164.54 580.47Z" fill="#276a5a"/>
<path d="M32.5 593.9V595.7M30.9 593.9H34.1M30.9 595.7H34.1" stroke="#21446c" stroke-width="0.9" fill="none"/>
<circle cx="32.5" cy="594.8" r="1.65" fill="#21446c"/>
<path d="M43.5 593.9V595.7M41.9 593.9H45.1M41.9 595.7H45.1" stroke="#21446c" stroke-width="0.9" fill="none"/>
<circle cx="43.67" cy="594.8" r="1.65" fill="#21446c"/>
<path d="M54.5 593.36V595.52M52.9 593.36H56.1M52.9 595.52H56.1" stroke="#21446c" stroke-width="0.9" fill="none"/>
<circle cx="54.85" cy="594.44" r="1.65" fill="#21446c"/>
<path d="M77.5 591.2V594.8M75.9 591.2H79.1M75.9 594.8H79.1" stroke="#21446c" stroke-width="0.9" fill="none"/>
<circle cx="77.2" cy="593" r="1.65" fill="#21446c"/>
<path d="M121.5 580.94V591.74M119.9 580.94H123.1M119.9 591.74H123.1" stroke="#21446c" stroke-width="0.9" fill="none"/>
<circle cx="121.9" cy="586.34" r="1.65" fill="#21446c"/>
<path d="M166.5 564.74V584.36M164.9 564.74H168.1M164.9 584.36H168.1" stroke="#21446c" stroke-width="0.9" fill="none"/>
<circle cx="166.6" cy="574.46" r="1.65" fill="#21446c"/>
<polyline points="292,137.5 294.24,124.01 296.47,113.21 298.7,104.57 300.94,97.66 303.18,92.13 305.41,87.71 307.64,84.17 309.88,81.34 312.12,79.07 314.35,77.26 316.58,75.81 318.82,74.65 321.06,73.72 323.29,72.97 325.52,72.38 327.76,71.9 330,71.52 332.23,71.22 334.47,70.98 336.7,70.78 338.94,70.62 341.17,70.5 343.4,70.4 345.64,70.32 347.88,70.26 350.11,70.2 352.35,70.16 354.58,70.13 356.81,70.1 359.05,70.08 361.29,70.07 363.52,70.05 365.75,70.04 367.99,70.03 370.23,70.03 372.46,70.02 374.69,70.02 376.93,70.01 379.17,70.01 381.4,70.01 383.63,70.01 385.87,70.01 388.11,70 390.34,70 392.57,70 394.81,70 397.05,70 399.28,70 401.51,70 403.75,70 405.99,70 408.22,70 410.45,70 412.69,70 414.93,70 417.16,70 419.39,70 421.63,70 423.87,70 426.1,70" fill="none" stroke="#6e4e33" stroke-width="1.2" stroke-linejoin="round"/>
<polyline points="292,108.7 294.24,101.51 296.47,99.74 298.7,99.3 300.94,99.2 303.18,99.17 305.41,99.16 307.64,99.16 309.88,99.16 312.12,99.16 314.35,99.16 316.58,99.16 318.82,99.16 321.06,99.16 323.29,99.16 325.52,99.16 327.76,99.16 330,99.16 332.23,99.16 334.47,99.16 336.7,99.16 338.94,99.16 341.17,99.16 343.4,99.16 345.64,99.16 347.88,99.16 350.11,99.16 352.35,99.16 354.58,99.16 356.81,99.16 359.05,99.16 361.29,99.16 363.52,99.16 365.75,99.16 367.99,99.16 370.23,99.16 372.46,99.16 374.69,99.16 376.93,99.16 379.17,99.16 381.4,99.16 383.63,99.16 385.87,99.16 388.11,99.16 390.34,99.16 392.57,99.16 394.81,99.16 397.05,99.16 399.28,99.16 401.51,99.16 403.75,99.16 405.99,99.16 408.22,99.16 410.45,99.16 412.69,99.16 414.93,99.16 417.16,99.16 419.39,99.16 421.63,99.16 423.87,99.16 426.1,99.16" fill="none" stroke="#e6a2b4" stroke-width="1.3" stroke-linejoin="round"/>
<polyline points="292,137.5 294.24,133.04 296.47,132.67 298.7,132.64 300.94,132.64 303.18,132.64 305.41,132.64 307.64,132.64 309.88,132.64 312.12,132.64 314.35,132.64 316.58,132.64 318.82,132.64 321.06,132.64 323.29,132.64 325.52,132.64 327.76,132.64 330,132.64 332.23,132.64 334.47,132.64 336.7,132.64 338.94,132.64 341.17,132.64 343.4,132.64 345.64,132.64 347.88,132.64 350.11,132.64 352.35,132.64 354.58,132.64 356.81,132.64 359.05,132.64 361.29,132.64 363.52,132.64 365.75,132.64 367.99,132.64 370.23,132.64 372.46,132.64 374.69,132.64 376.93,132.64 379.17,132.64 381.4,132.64 383.63,132.64 385.87,132.64 388.11,132.64 390.34,132.64 392.57,132.64 394.81,132.64 397.05,132.64 399.28,132.64 401.51,132.64 403.75,132.64 405.99,132.64 408.22,132.64 410.45,132.64 412.69,132.64 414.93,132.64 417.16,132.64 419.39,132.64 421.63,132.64 423.87,132.64 426.1,132.64" fill="none" stroke="#6a3a6a" stroke-width="1.3" stroke-linejoin="round"/>
<polyline points="292,137.5 294.24,133.7 296.47,133.39 298.7,133.36 300.94,133.36 303.18,133.36 305.41,133.36 307.64,133.36 309.88,133.36 312.12,133.36 314.35,133.36 316.58,133.36 318.82,133.36 321.06,133.36 323.29,133.36 325.52,133.36 327.76,133.36 330,133.36 332.23,133.36 334.47,133.36 336.7,133.36 338.94,133.36 341.17,133.36 343.4,133.36 345.64,133.36 347.88,133.36 350.11,133.36 352.35,133.36 354.58,133.36 356.81,133.36 359.05,133.36 361.29,133.36 363.52,133.36 365.75,133.36 367.99,133.36 370.23,133.36 372.46,133.36 374.69,133.36 376.93,133.36 379.17,133.36 381.4,133.36 383.63,133.36 385.87,133.36 388.11,133.36 390.34,133.36 392.57,133.36 394.81,133.36 397.05,133.36 399.28,133.36 401.51,133.36 403.75,133.36 405.99,133.36 408.22,133.36 410.45,133.36 412.69,133.36 414.93,133.36 417.16,133.36 419.39,133.36 421.63,133.36 423.87,133.36 426.1,133.36" fill="none" stroke="#21446c" stroke-width="1.3" stroke-linejoin="round"/>
<circle cx="292" cy="110.5" r="2.2" fill="#3e2416"/>
<circle cx="303.18" cy="84.04" r="2.2" fill="#3e2416"/>
<circle cx="314.35" cy="89.98" r="2.2" fill="#3e2416"/>
<circle cx="336.7" cy="78.28" r="2.2" fill="#3e2416"/>
<circle cx="381.4" cy="63.16" r="2.2" fill="#3e2416"/>
<circle cx="426.1" cy="62.62" r="2.2" fill="#3e2416"/>
<rect x="290.38" y="106.55" width="3.23" height="3.23" fill="#e6a2b4"/>
<rect x="301.56" y="104.39" width="3.23" height="3.23" fill="#e6a2b4"/>
<rect x="312.74" y="97.91" width="3.23" height="3.23" fill="#e6a2b4"/>
<rect x="335.08" y="97.55" width="3.23" height="3.23" fill="#e6a2b4"/>
<rect x="379.78" y="93.41" width="3.23" height="3.23" fill="#e6a2b4"/>
<rect x="424.49" y="93.41" width="3.23" height="3.23" fill="#e6a2b4"/>
<path d="M292 135.44L294.06 137.5L292 139.56L289.94 137.5Z" fill="#9a2450"/>
<path d="M303.18 131.48L305.24 133.54L303.18 135.6L301.11 133.54Z" fill="#9a2450"/>
<path d="M314.5 130.3V133.9M312.9 130.3H316.1M312.9 133.9H316.1" stroke="#9a2450" stroke-width="0.9" fill="none"/>
<path d="M314.35 130.04L316.41 132.1L314.35 134.16L312.29 132.1Z" fill="#9a2450"/>
<path d="M336.7 130.94L338.76 133L336.7 135.06L334.64 133Z" fill="#9a2450"/>
<path d="M381.4 128.42L383.46 130.48L381.4 132.54L379.34 130.48Z" fill="#9a2450"/>
<path d="M426.1 130.04L428.16 132.1L426.1 134.16L424.04 132.1Z" fill="#9a2450"/>
<circle cx="292" cy="137.5" r="1.65" fill="#21446c"/>
<path d="M303.5 133.18V134.98M301.9 133.18H305.1M301.9 134.98H305.1" stroke="#21446c" stroke-width="0.9" fill="none"/>
<circle cx="303.18" cy="134.08" r="1.65" fill="#21446c"/>
<path d="M314.5 131.2V135.7M312.9 131.2H316.1M312.9 135.7H316.1" stroke="#21446c" stroke-width="0.9" fill="none"/>
<circle cx="314.35" cy="133.9" r="1.65" fill="#21446c"/>
<path d="M336.5 132.64V134.44M334.9 132.64H338.1M334.9 134.44H338.1" stroke="#21446c" stroke-width="0.9" fill="none"/>
<circle cx="336.7" cy="133.54" r="1.65" fill="#21446c"/>
<path d="M381.5 132.64V134.44M379.9 132.64H383.1M379.9 134.44H383.1" stroke="#21446c" stroke-width="0.9" fill="none"/>
<circle cx="381.4" cy="133.54" r="1.65" fill="#21446c"/>
<path d="M426.5 130.3V134.8M424.9 130.3H428.1M424.9 134.8H428.1" stroke="#21446c" stroke-width="0.9" fill="none"/>
<circle cx="426.1" cy="133" r="1.65" fill="#21446c"/>
<polyline points="292,290.6 294.24,288.04 296.47,285.95 298.7,284.24 300.94,282.84 303.18,281.69 305.41,280.75 307.64,279.98 309.88,279.35 312.12,278.83 314.35,278.41 316.58,278.06 318.82,277.78 321.06,277.55 323.29,277.36 325.52,277.2 327.76,277.07 330,276.97 332.23,276.89 334.47,276.82 336.7,276.76 338.94,276.71 341.17,276.67 343.4,276.64 345.64,276.62 347.88,276.6 350.11,276.58 352.35,276.56 354.58,276.55 356.81,276.54 359.05,276.53 361.29,276.53 363.52,276.52 365.75,276.52 367.99,276.52 370.23,276.51 372.46,276.51 374.69,276.51 376.93,276.51 379.17,276.51 381.4,276.5 383.63,276.5 385.87,276.5 388.11,276.5 390.34,276.5 392.57,276.5 394.81,276.5 397.05,276.5 399.28,276.5 401.51,276.5 403.75,276.5 405.99,276.5 408.22,276.5 410.45,276.5 412.69,276.5 414.93,276.5 417.16,276.5 419.39,276.5 421.63,276.5 423.87,276.5 426.1,276.5" fill="none" stroke="#e6a2b4" stroke-width="1.3" stroke-linejoin="round"/>
<polyline points="292,290.6 294.24,288.43 296.47,286.47 298.7,284.69 300.94,283.08 303.18,281.63 305.41,280.31 307.64,279.12 309.88,278.04 312.12,277.07 314.35,276.19 316.58,275.39 318.82,274.67 321.06,274.01 323.29,273.42 325.52,272.89 327.76,272.4 330,271.97 332.23,271.57 334.47,271.21 336.7,270.89 338.94,270.59 341.17,270.33 343.4,270.09 345.64,269.87 347.88,269.67 350.11,269.49 352.35,269.33 354.58,269.19 356.81,269.05 359.05,268.94 361.29,268.83 363.52,268.73 365.75,268.64 367.99,268.56 370.23,268.49 372.46,268.42 374.69,268.36 376.93,268.31 379.17,268.26 381.4,268.22 383.63,268.18 385.87,268.14 388.11,268.11 390.34,268.08 392.57,268.05 394.81,268.03 397.05,268.01 399.28,267.99 401.51,267.97 403.75,267.95 405.99,267.94 408.22,267.93 410.45,267.91 412.69,267.9 414.93,267.89 417.16,267.88 419.39,267.88 421.63,267.87 423.87,267.86 426.1,267.86" fill="none" stroke="#6e4e33" stroke-width="1.0" stroke-linejoin="round"/>
<polyline points="292,290.6 294.24,289.7 296.47,288.81 298.7,287.94 300.94,287.09 303.18,286.25 305.41,285.43 307.64,284.62 309.88,283.83 312.12,283.06 314.35,282.29 316.58,281.55 318.82,280.81 321.06,280.09 323.29,279.39 325.52,278.7 327.76,278.02 330,277.35 332.23,276.7 334.47,276.05 336.7,275.43 338.94,274.81 341.17,274.2 343.4,273.61 345.64,273.02 347.88,272.45 350.11,271.89 352.35,271.34 354.58,270.8 356.81,270.27 359.05,269.75 361.29,269.23 363.52,268.73 365.75,268.24 367.99,267.76 370.23,267.29 372.46,266.82 374.69,266.36 376.93,265.92 379.17,265.48 381.4,265.05 383.63,264.63 385.87,264.21 388.11,263.8 390.34,263.41 392.57,263.01 394.81,262.63 397.05,262.25 399.28,261.88 401.51,261.52 403.75,261.16 405.99,260.81 408.22,260.47 410.45,260.14 412.69,259.81 414.93,259.48 417.16,259.16 419.39,258.85 421.63,258.55 423.87,258.25 426.1,257.95" fill="none" stroke="#c8355a" stroke-width="1.0" stroke-linejoin="round"/>
<polyline points="292,290.6 294.24,289.95 296.47,289.29 298.7,288.64 300.94,287.98 303.18,287.33 305.41,286.68 307.64,286.02 309.88,285.37 312.12,284.71 314.35,284.06 316.58,283.41 318.82,282.75 321.06,282.1 323.29,281.44 325.52,280.79 327.76,280.14 330,279.48 332.23,278.83 334.47,278.17 336.7,277.52 338.94,276.87 341.17,276.21 343.4,275.56 345.64,274.9 347.88,274.25 350.11,273.6 352.35,272.94 354.58,272.29 356.81,271.63 359.05,270.98 361.29,270.33 363.52,269.67 365.75,269.02 367.99,268.36 370.23,267.71 372.46,267.06 374.69,266.4 376.93,265.75 379.17,265.09 381.4,264.44 383.63,263.79 385.87,263.13 388.11,262.48 390.34,261.82 392.57,261.17 394.81,260.52 397.05,259.86 399.28,259.21 401.51,258.55 403.75,257.9 405.99,257.25 408.22,256.59 410.45,255.94 412.69,255.28 414.93,254.63 417.16,253.98 419.39,253.32 421.63,252.67 423.87,252.01 426.1,251.36" fill="none" stroke="#21446c" stroke-width="1.0" stroke-linejoin="round"/>
<circle cx="292" cy="290.6" r="2.2" fill="#3e2416"/>
<circle cx="303.18" cy="279.8" r="2.2" fill="#3e2416"/>
<circle cx="314.35" cy="278.6" r="2.2" fill="#3e2416"/>
<circle cx="336.7" cy="270.5" r="2.2" fill="#3e2416"/>
<circle cx="381.4" cy="262.4" r="2.2" fill="#3e2416"/>
<circle cx="426.1" cy="268.7" r="2.2" fill="#3e2416"/>
<path d="M292 288.54L294.06 290.6L292 292.66L289.94 290.6Z" fill="#9a2450"/>
<path d="M303.18 284.04L305.24 286.1L303.18 288.16L301.11 286.1Z" fill="#9a2450"/>
<path d="M314.35 281.04L316.41 283.1L314.35 285.16L312.29 283.1Z" fill="#9a2450"/>
<path d="M336.7 273.54L338.76 275.6L336.7 277.66L334.64 275.6Z" fill="#9a2450"/>
<path d="M381.4 259.74L383.46 261.8L381.4 263.86L379.34 261.8Z" fill="#9a2450"/>
<path d="M426.1 254.94L428.16 257L426.1 259.06L424.04 257Z" fill="#9a2450"/>
<circle cx="292" cy="290.6" r="1.65" fill="#21446c"/>
<path d="M303.5 286.1V288.5M301.9 286.1H305.1M301.9 288.5H305.1" stroke="#21446c" stroke-width="0.9" fill="none"/>
<circle cx="303.18" cy="287.3" r="1.65" fill="#21446c"/>
<path d="M314.5 281.9V287.3M312.9 281.9H316.1M312.9 287.3H316.1" stroke="#21446c" stroke-width="0.9" fill="none"/>
<circle cx="314.35" cy="284.3" r="1.65" fill="#21446c"/>
<path d="M336.5 275.6V280.4M334.9 275.6H338.1M334.9 280.4H338.1" stroke="#21446c" stroke-width="0.9" fill="none"/>
<circle cx="336.7" cy="278" r="1.65" fill="#21446c"/>
<path d="M381.5 263V270.2M379.9 263H383.1M379.9 270.2H383.1" stroke="#21446c" stroke-width="0.9" fill="none"/>
<circle cx="381.4" cy="266.6" r="1.65" fill="#21446c"/>
<path d="M426.5 235.4V266.3M424.9 235.4H428.1M424.9 266.3H428.1" stroke="#21446c" stroke-width="0.9" fill="none"/>
<circle cx="426.1" cy="251.3" r="1.65" fill="#21446c"/>
<rect x="290.38" y="288.99" width="3.23" height="3.23" fill="#e6a2b4"/>
<rect x="301.56" y="279.09" width="3.23" height="3.23" fill="#e6a2b4"/>
<rect x="312.74" y="274.59" width="3.23" height="3.23" fill="#e6a2b4"/>
<rect x="335.08" y="274.88" width="3.23" height="3.23" fill="#e6a2b4"/>
<rect x="379.78" y="272.79" width="3.23" height="3.23" fill="#e6a2b4"/>
<rect x="424.49" y="275.49" width="3.23" height="3.23" fill="#e6a2b4"/>
<polyline points="292,444 294.24,441.51 296.47,439.27 298.7,437.27 300.94,435.48 303.18,433.87 305.41,432.43 307.64,431.14 309.88,429.99 312.12,428.96 314.35,428.03 316.58,427.2 318.82,426.46 321.06,425.79 323.29,425.19 325.52,424.66 327.76,424.18 330,423.75 332.23,423.37 334.47,423.02 336.7,422.71 338.94,422.44 341.17,422.19 343.4,421.97 345.64,421.77 347.88,421.59 350.11,421.43 352.35,421.29 354.58,421.16 356.81,421.05 359.05,420.94 361.29,420.85 363.52,420.77 365.75,420.69 367.99,420.63 370.23,420.57 372.46,420.52 374.69,420.47 376.93,420.43 379.17,420.39 381.4,420.35 383.63,420.32 385.87,420.3 388.11,420.27 390.34,420.25 392.57,420.23 394.81,420.21 397.05,420.2 399.28,420.18 401.51,420.17 403.75,420.16 405.99,420.15 408.22,420.14 410.45,420.13 412.69,420.12 414.93,420.12 417.16,420.11 419.39,420.11 421.63,420.1 423.87,420.1 426.1,420.09" fill="none" stroke="#e6a2b4" stroke-width="1.3" stroke-linejoin="round"/>
<polyline points="292,444 294.24,442.21 296.47,440.53 298.7,438.96 300.94,437.49 303.18,436.11 305.41,434.82 307.64,433.6 309.88,432.47 312.12,431.4 314.35,430.41 316.58,429.47 318.82,428.6 321.06,427.78 323.29,427.01 325.52,426.29 327.76,425.61 330,424.98 332.23,424.39 334.47,423.83 336.7,423.31 338.94,422.82 341.17,422.37 343.4,421.94 345.64,421.54 347.88,421.16 350.11,420.81 352.35,420.48 354.58,420.17 356.81,419.88 359.05,419.61 361.29,419.35 363.52,419.11 365.75,418.89 367.99,418.68 370.23,418.48 372.46,418.3 374.69,418.13 376.93,417.97 379.17,417.81 381.4,417.67 383.63,417.54 385.87,417.41 388.11,417.3 390.34,417.19 392.57,417.09 394.81,416.99 397.05,416.9 399.28,416.82 401.51,416.74 403.75,416.66 405.99,416.59 408.22,416.53 410.45,416.47 412.69,416.41 414.93,416.36 417.16,416.31 419.39,416.26 421.63,416.22 423.87,416.17 426.1,416.14" fill="none" stroke="#6e4e33" stroke-width="1.0" stroke-linejoin="round"/>
<polyline points="292,444 294.24,442.82 296.47,441.68 298.7,440.55 300.94,439.45 303.18,438.38 305.41,437.32 307.64,436.29 309.88,435.29 312.12,434.3 314.35,433.34 316.58,432.39 318.82,431.47 321.06,430.57 323.29,429.69 325.52,428.82 327.76,427.98 330,427.15 332.23,426.34 334.47,425.55 336.7,424.78 338.94,424.02 341.17,423.28 343.4,422.56 345.64,421.85 347.88,421.16 350.11,420.48 352.35,419.81 354.58,419.17 356.81,418.53 359.05,417.91 361.29,417.3 363.52,416.71 365.75,416.13 367.99,415.56 370.23,415 372.46,414.46 374.69,413.93 376.93,413.41 379.17,412.9 381.4,412.4 383.63,411.91 385.87,411.43 388.11,410.97 390.34,410.51 392.57,410.07 394.81,409.63 397.05,409.2 399.28,408.78 401.51,408.37 403.75,407.98 405.99,407.58 408.22,407.2 410.45,406.83 412.69,406.46 414.93,406.1 417.16,405.75 419.39,405.41 421.63,405.07 423.87,404.75 426.1,404.43" fill="none" stroke="#c8355a" stroke-width="1.0" stroke-linejoin="round"/>
<polyline points="292,444 294.24,443.16 296.47,442.32 298.7,441.48 300.94,440.64 303.18,439.8 305.41,438.96 307.64,438.12 309.88,437.28 312.12,436.43 314.35,435.59 316.58,434.75 318.82,433.91 321.06,433.07 323.29,432.23 325.52,431.39 327.76,430.55 330,429.71 332.23,428.87 334.47,428.03 336.7,427.19 338.94,426.35 341.17,425.51 343.4,424.67 345.64,423.83 347.88,422.99 350.11,422.14 352.35,421.3 354.58,420.46 356.81,419.62 359.05,418.78 361.29,417.94 363.52,417.1 365.75,416.26 367.99,415.42 370.23,414.58 372.46,413.74 374.69,412.9 376.93,412.06 379.17,411.22 381.4,410.38 383.63,409.54 385.87,408.69 388.11,407.85 390.34,407.01 392.57,406.17 394.81,405.33 397.05,404.49 399.28,403.65 401.51,402.81 403.75,401.97 405.99,401.13 408.22,400.29 410.45,399.45 412.69,398.61 414.93,397.77 417.16,396.93 419.39,396.09 421.63,395.25 423.87,394.4 426.1,393.56" fill="none" stroke="#21446c" stroke-width="1.0" stroke-linejoin="round"/>
<circle cx="292" cy="443.1" r="2.2" fill="#3e2416"/>
<circle cx="303.18" cy="433.2" r="2.2" fill="#3e2416"/>
<circle cx="314.35" cy="428.7" r="2.2" fill="#3e2416"/>
<circle cx="336.7" cy="424.2" r="2.2" fill="#3e2416"/>
<circle cx="381.4" cy="422.04" r="2.2" fill="#3e2416"/>
<circle cx="426.1" cy="413.94" r="2.2" fill="#3e2416"/>
<rect x="290.38" y="441.49" width="3.23" height="3.23" fill="#e6a2b4"/>
<rect x="301.56" y="429.96" width="3.23" height="3.23" fill="#e6a2b4"/>
<rect x="312.74" y="426.55" width="3.23" height="3.23" fill="#e6a2b4"/>
<rect x="335.08" y="421.69" width="3.23" height="3.23" fill="#e6a2b4"/>
<rect x="379.78" y="418.99" width="3.23" height="3.23" fill="#e6a2b4"/>
<rect x="424.49" y="418.62" width="3.23" height="3.23" fill="#e6a2b4"/>
<path d="M292 441.94L294.06 444L292 446.06L289.94 444Z" fill="#9a2450"/>
<path d="M303.18 436.54L305.24 438.6L303.18 440.66L301.11 438.6Z" fill="#9a2450"/>
<path d="M314.35 432.94L316.41 435L314.35 437.06L312.29 435Z" fill="#9a2450"/>
<path d="M336.7 424.84L338.76 426.9L336.7 428.96L334.64 426.9Z" fill="#9a2450"/>
<path d="M381.4 407.74L383.46 409.8L381.4 411.86L379.34 409.8Z" fill="#9a2450"/>
<path d="M426.1 401.8L428.16 403.86L426.1 405.92L424.04 403.86Z" fill="#9a2450"/>
<circle cx="292" cy="444" r="1.65" fill="#21446c"/>
<path d="M303.5 433.74V439.14M301.9 433.74H305.1M301.9 439.14H305.1" stroke="#21446c" stroke-width="0.9" fill="none"/>
<circle cx="303.18" cy="436.44" r="1.65" fill="#21446c"/>
<path d="M314.5 427.26V438.06M312.9 427.26H316.1M312.9 438.06H316.1" stroke="#21446c" stroke-width="0.9" fill="none"/>
<circle cx="314.35" cy="432.66" r="1.65" fill="#21446c"/>
<path d="M336.5 420.78V430.68M334.9 420.78H338.1M334.9 430.68H338.1" stroke="#21446c" stroke-width="0.9" fill="none"/>
<circle cx="336.7" cy="425.28" r="1.65" fill="#21446c"/>
<path d="M381.5 405.12V418.62M379.9 405.12H383.1M379.9 418.62H383.1" stroke="#21446c" stroke-width="0.9" fill="none"/>
<circle cx="381.4" cy="412.32" r="1.65" fill="#21446c"/>
<path d="M426.5 375.96V407.46M424.9 375.96H428.1M424.9 407.46H428.1" stroke="#21446c" stroke-width="0.9" fill="none"/>
<circle cx="426.1" cy="391.8" r="1.65" fill="#21446c"/>
<polyline points="292,593.29 294.24,593.09 296.47,592.88 298.7,592.66 300.94,592.44 303.18,592.2 305.41,591.95 307.64,591.69 309.88,591.41 312.12,591.13 314.35,590.83 316.58,590.51 318.82,590.18 321.06,589.84 323.29,589.48 325.52,589.1 327.76,588.71 330,588.29 332.23,587.86 334.47,587.41 336.7,586.93 338.94,586.43 341.17,585.91 343.4,585.37 345.64,584.8 347.88,584.2 350.11,583.57 352.35,582.92 354.58,582.23 356.81,581.51 359.05,580.76 361.29,579.97 363.52,579.14 365.75,578.28 367.99,577.38 370.23,576.43 372.46,575.44 374.69,574.4 376.93,573.31 379.17,572.17 381.4,570.98 383.63,569.73 385.87,568.42 388.11,567.05 390.34,565.62 392.57,564.12 394.81,562.55 397.05,560.9 399.28,559.18 401.51,557.38 403.75,555.49 405.99,553.51 408.22,551.44 410.45,549.27 412.69,547 414.93,544.62 417.16,542.14 419.39,539.53 421.63,536.8 423.87,533.94 426.1,530.95" fill="none" stroke="#6e4e33" stroke-width="1.2" stroke-linejoin="round"/>
<polyline points="292,595.2 294.24,595.08 296.47,594.97 298.7,594.84 300.94,594.72 303.18,594.58 305.41,594.44 307.64,594.29 309.88,594.13 312.12,593.97 314.35,593.8 316.58,593.62 318.82,593.43 321.06,593.23 323.29,593.03 325.52,592.81 327.76,592.58 330,592.34 332.23,592.09 334.47,591.83 336.7,591.55 338.94,591.27 341.17,590.96 343.4,590.65 345.64,590.31 347.88,589.96 350.11,589.6 352.35,589.21 354.58,588.81 356.81,588.39 359.05,587.95 361.29,587.49 363.52,587 365.75,586.49 367.99,585.96 370.23,585.39 372.46,584.81 374.69,584.19 376.93,583.54 379.17,582.87 381.4,582.16 383.63,581.41 385.87,580.63 388.11,579.81 390.34,578.95 392.57,578.05 394.81,577.11 397.05,576.12 399.28,575.08 401.51,573.99 403.75,572.85 405.99,571.66 408.22,570.4 410.45,569.09 412.69,567.71 414.93,566.26 417.16,564.75 419.39,563.16 421.63,561.49 423.87,559.74 426.1,557.91" fill="none" stroke="#e6a2b4" stroke-width="2.0" stroke-linejoin="round"/>
<polyline points="292,595.3 294.24,595.2 296.47,595.09 298.7,594.97 300.94,594.85 303.18,594.72 305.41,594.58 307.64,594.44 309.88,594.29 312.12,594.14 314.35,593.98 316.58,593.81 318.82,593.63 321.06,593.44 323.29,593.24 325.52,593.04 327.76,592.82 330,592.59 332.23,592.35 334.47,592.11 336.7,591.84 338.94,591.57 341.17,591.28 343.4,590.98 345.64,590.67 347.88,590.34 350.11,589.99 352.35,589.62 354.58,589.24 356.81,588.84 359.05,588.42 361.29,587.98 363.52,587.52 365.75,587.04 367.99,586.53 370.23,586 372.46,585.45 374.69,584.86 376.93,584.25 379.17,583.61 381.4,582.93 383.63,582.23 385.87,581.49 388.11,580.71 390.34,579.9 392.57,579.05 394.81,578.15 397.05,577.22 399.28,576.24 401.51,575.21 403.75,574.13 405.99,572.99 408.22,571.81 410.45,570.56 412.69,569.26 414.93,567.89 417.16,566.46 419.39,564.95 421.63,563.37 423.87,561.72 426.1,559.99" fill="none" stroke="#c8355a" stroke-width="0.9" stroke-linejoin="round"/>
<polyline points="292,594.8 294.24,594.7 296.47,594.6 298.7,594.49 300.94,594.39 303.18,594.27 305.41,594.16 307.64,594.03 309.88,593.91 312.12,593.78 314.35,593.64 316.58,593.5 318.82,593.36 321.06,593.21 323.29,593.05 325.52,592.89 327.76,592.72 330,592.55 332.23,592.37 334.47,592.18 336.7,591.99 338.94,591.79 341.17,591.58 343.4,591.36 345.64,591.14 347.88,590.91 350.11,590.67 352.35,590.42 354.58,590.16 356.81,589.9 359.05,589.62 361.29,589.33 363.52,589.04 365.75,588.73 367.99,588.41 370.23,588.08 372.46,587.74 374.69,587.38 376.93,587.02 379.17,586.63 381.4,586.24 383.63,585.83 385.87,585.41 388.11,584.97 390.34,584.51 392.57,584.04 394.81,583.55 397.05,583.04 399.28,582.52 401.51,581.97 403.75,581.41 405.99,580.82 408.22,580.22 410.45,579.59 412.69,578.94 414.93,578.26 417.16,577.57 419.39,576.84 421.63,576.09 423.87,575.31 426.1,574.51" fill="none" stroke="#21446c" stroke-width="1.0" stroke-linejoin="round"/>
<circle cx="292" cy="593.36" r="2.2" fill="#3e2416"/>
<circle cx="303.18" cy="592.64" r="2.2" fill="#3e2416"/>
<circle cx="314.35" cy="592.28" r="2.2" fill="#3e2416"/>
<circle cx="336.7" cy="587.06" r="2.2" fill="#3e2416"/>
<circle cx="381.4" cy="568.34" r="2.2" fill="#3e2416"/>
<circle cx="426.1" cy="531.08" r="2.2" fill="#3e2416"/>
<rect x="290.38" y="593.18" width="3.23" height="3.23" fill="#e6a2b4"/>
<rect x="301.56" y="592.64" width="3.23" height="3.23" fill="#e6a2b4"/>
<rect x="312.74" y="591.92" width="3.23" height="3.23" fill="#e6a2b4"/>
<rect x="335.08" y="589.59" width="3.23" height="3.23" fill="#e6a2b4"/>
<rect x="379.78" y="576.62" width="3.23" height="3.23" fill="#e6a2b4"/>
<rect x="424.49" y="555.92" width="3.23" height="3.23" fill="#e6a2b4"/>
<path d="M292 592.92L294.06 594.98L292 597.04L289.94 594.98Z" fill="#9a2450"/>
<path d="M303.18 592.38L305.24 594.44L303.18 596.5L301.11 594.44Z" fill="#9a2450"/>
<path d="M314.35 591.84L316.41 593.9L314.35 595.96L312.29 593.9Z" fill="#9a2450"/>
<path d="M336.7 589.5L338.76 591.56L336.7 593.62L334.64 591.56Z" fill="#9a2450"/>
<path d="M381.4 579.78L383.46 581.84L381.4 583.9L379.34 581.84Z" fill="#9a2450"/>
<path d="M426.1 557.64L428.16 559.7L426.1 561.76L424.04 559.7Z" fill="#9a2450"/>
<path d="M292.5 593.9V595.7M290.9 593.9H294.1M290.9 595.7H294.1" stroke="#21446c" stroke-width="0.9" fill="none"/>
<circle cx="292" cy="594.8" r="1.65" fill="#21446c"/>
<path d="M303.5 593.9V595.7M301.9 593.9H305.1M301.9 595.7H305.1" stroke="#21446c" stroke-width="0.9" fill="none"/>
<circle cx="303.18" cy="594.8" r="1.65" fill="#21446c"/>
<path d="M314.5 593.36V595.52M312.9 593.36H316.1M312.9 595.52H316.1" stroke="#21446c" stroke-width="0.9" fill="none"/>
<circle cx="314.35" cy="594.44" r="1.65" fill="#21446c"/>
<path d="M336.5 591.2V594.8M334.9 591.2H338.1M334.9 594.8H338.1" stroke="#21446c" stroke-width="0.9" fill="none"/>
<circle cx="336.7" cy="593" r="1.65" fill="#21446c"/>
<path d="M381.5 580.94V591.74M379.9 580.94H383.1M379.9 591.74H383.1" stroke="#21446c" stroke-width="0.9" fill="none"/>
<circle cx="381.4" cy="586.34" r="1.65" fill="#21446c"/>
<path d="M426.5 564.74V584.36M424.9 564.74H428.1M424.9 584.36H428.1" stroke="#21446c" stroke-width="0.9" fill="none"/>
<circle cx="426.1" cy="574.46" r="1.65" fill="#21446c"/>
<path d="M179.1 76H191.3" stroke="#3f6088" stroke-width="1.3"/>
<circle cx="185.2" cy="76" r="1.7" fill="#1d3d62"/>
<text x="194.8" y="78.8" class="lg">Controls (n = 10)</text>
<path d="M179.1 90.75H191.3" stroke="#86cc98" stroke-width="1.3"/>
<path d="M185.2 88.38L187.57 92.53L182.82 92.53Z" fill="#3f8a55"/>
<text x="194.8" y="93.55" class="lg">HKD1</text>
<path d="M179.1 105.5H191.3" stroke="#2a5e4c" stroke-width="1.3"/>
<path d="M185.2 107.88L187.57 103.72L182.82 103.72Z" fill="#173f33"/>
<text x="194.8" y="108.3" class="lg">HKD2</text>
<path d="M439.1 68.5H451.3" stroke="#3f6088" stroke-width="1.3"/>
<circle cx="445.2" cy="68.5" r="1.7" fill="#1d3d62"/>
<text x="454.8" y="71.3" class="lg">Controls (n = 10)</text>
<path d="M439.1 83.25H451.3" stroke="#ebb3c2" stroke-width="1.3"/>
<rect x="443.67" y="81.72" width="3.06" height="3.06" fill="#cc8aa2"/>
<text x="454.8" y="86.05" class="lg">PKD1</text>
<path d="M439.1 98H451.3" stroke="#c44a68" stroke-width="1.3"/>
<path d="M445.2 95.62L447.58 98L445.2 100.38L442.83 98Z" fill="#8c1c3a"/>
<text x="454.8" y="100.8" class="lg">PKD2</text>
<path d="M439.1 112.75H451.3" stroke="#8c7a68" stroke-width="1.7"/>
<circle cx="445.2" cy="112.75" r="2.1" fill="#3c2818"/>
<text x="454.8" y="115.55" class="lg">PKD3</text>
</svg>
</body></html>
